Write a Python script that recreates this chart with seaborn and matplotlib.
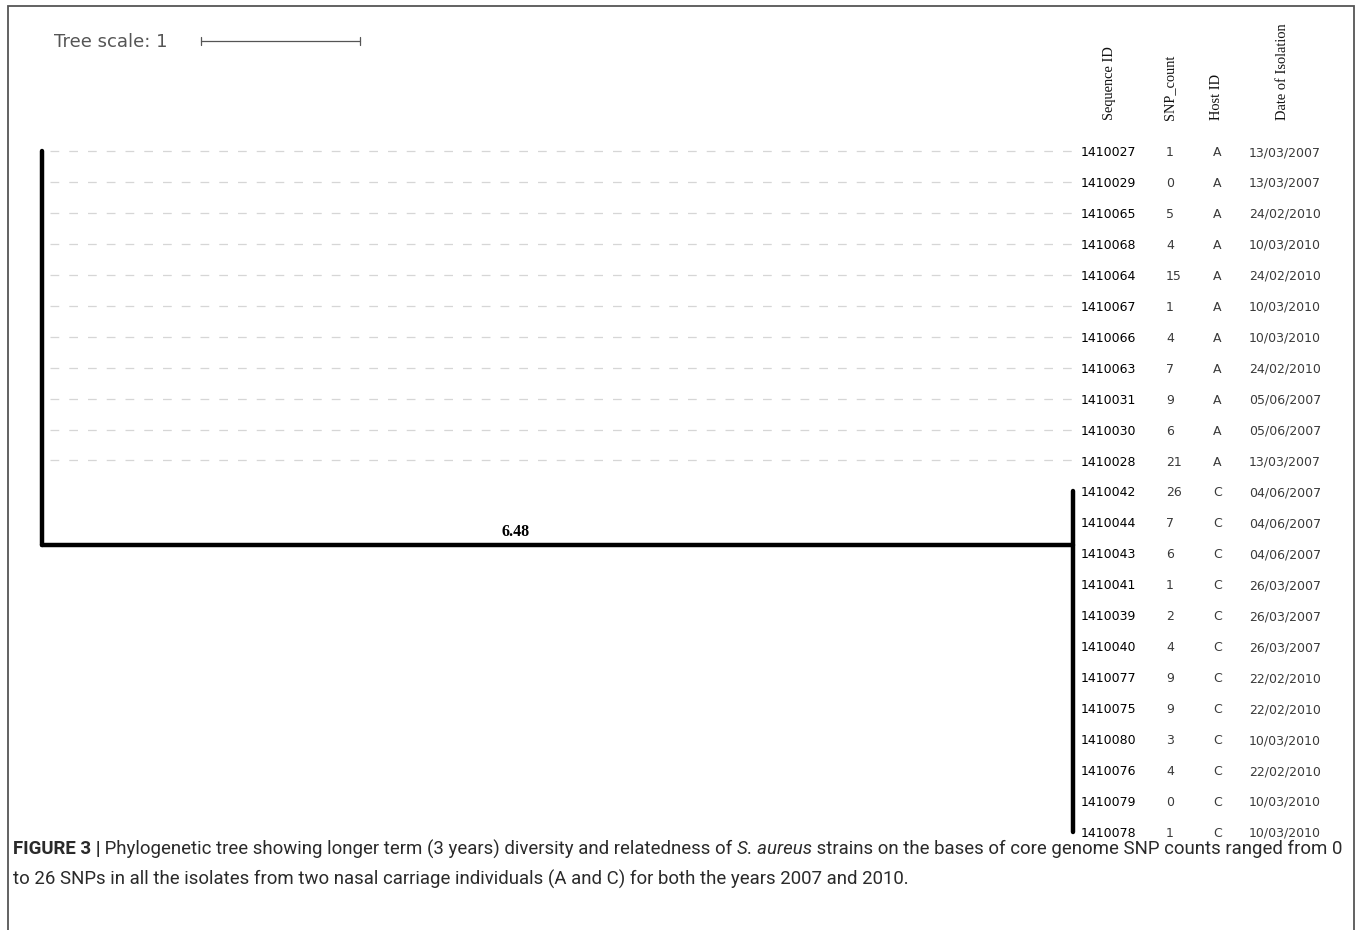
import matplotlib
matplotlib.use("Agg")
import matplotlib.pyplot as plt
from matplotlib import transforms
from matplotlib.patches import Rectangle
import seaborn as sns
import pandas as pd

# ---- isolate table -------------------------------------------------------
seq_ids = ["1410027", "1410029", "1410065", "1410068", "1410064", "1410067",
           "1410066", "1410063", "1410031", "1410030", "1410028",
           "1410042", "1410044", "1410043", "1410041", "1410039", "1410040",
           "1410077", "1410075", "1410080", "1410076", "1410079", "1410078"]
snp_counts = [1, 0, 5, 4, 15, 1, 4, 7, 9, 6, 21,
              26, 7, 6, 1, 2, 4, 9, 9, 3, 4, 0, 1]
host_ids = ["A"] * 11 + ["C"] * 12
iso_dates = ["13/03/2007", "13/03/2007", "24/02/2010", "10/03/2010",
             "24/02/2010", "10/03/2010", "10/03/2010", "24/02/2010",
             "05/06/2007", "05/06/2007", "13/03/2007",
             "04/06/2007", "04/06/2007", "04/06/2007", "26/03/2007",
             "26/03/2007", "26/03/2007", "22/02/2010", "22/02/2010",
             "10/03/2010", "22/02/2010", "10/03/2010", "10/03/2010"]
column_titles = ["Sequence ID", "SNP_count", "Host ID", "Date of Isolation"]

# ---- tree ------------------------------------------------------------------
clade_c_branch = 6.48        # root -> host C clade
leaf_branch = 0.0            # all tips sit on their parent node
clade_c_anchor_row = 12.73   # row position of the host C clade node
branch_label_pos = 0.459     # where the length label sits along the branch
tree_scale_len = 1.0
tree_scale_start = 1.0

rows = list(range(len(seq_ids)))
a_rows = [r for r, h in zip(rows, host_ids) if h == "A"]
c_rows = [r for r, h in zip(rows, host_ids) if h == "C"]

W, H, DPI = 1357, 930, 100
sns.set_theme(style="white")
plt.rcParams["font.family"] = ["DejaVu Sans"]

fig = plt.figure(figsize=(W / DPI, H / DPI), dpi=DPI)
ax = fig.add_axes([0, 0, 1, 1])
px_per_unit = 159.1
x0_px = 42
row0_px, row_px = 151, 30.95
ax.set_xlim(-x0_px / px_per_unit, (W - x0_px) / px_per_unit)
ax.set_ylim((H - row0_px) / row_px, -row0_px / row_px)
ax.axis("off")

# frame around the figure panel
fig.patches.append(Rectangle((8 / W, -0.01), (1354 - 8) / W, 1.01 - 6 / H,
                             transform=fig.transFigure, fill=False,
                             edgecolor="#555555", linewidth=1.3))

tip_x = clade_c_branch + leaf_branch
# dashed leader lines from the host A tips to the labels
for r in a_rows:
    lead = pd.DataFrame({"x": [leaf_branch + 0.05, tip_x + 0.02], "y": [r, r]})
    sns.lineplot(data=lead, x="x", y="y", ax=ax, color="#d6d6d6",
                 linewidth=0.9, linestyle=(0, (7, 8)), estimator=None,
                 sort=False)

branch_kw = dict(color="black", linewidth=3.2, solid_capstyle="round",
                 estimator=None, sort=False)
# root: vertical joining the host A tips and the host C clade
root_v = pd.DataFrame({"x": [0, 0], "y": [min(a_rows), clade_c_anchor_row]})
sns.lineplot(data=root_v, x="x", y="y", ax=ax, **branch_kw)
# branch to the host C clade
c_h = pd.DataFrame({"x": [0, clade_c_branch],
                    "y": [clade_c_anchor_row, clade_c_anchor_row]})
sns.lineplot(data=c_h, x="x", y="y", ax=ax, **branch_kw)
# host C clade vertical
c_v = pd.DataFrame({"x": [clade_c_branch, clade_c_branch],
                    "y": [min(c_rows), max(c_rows)]})
sns.lineplot(data=c_v, x="x", y="y", ax=ax, **branch_kw)

ax.text(clade_c_branch * branch_label_pos, clade_c_anchor_row - 0.17,
        f"{clade_c_branch:.2f}", ha="center", va="bottom", fontsize=11.5,
        fontweight="bold", family="Liberation Serif", color="black", zorder=5,
        bbox=dict(facecolor="white", edgecolor="none", pad=2.0))

# tree scale bar
sy = -3.555
ax.plot([tree_scale_start, tree_scale_start + tree_scale_len], [sy, sy],
        color="#555555", linewidth=0.9)
for xe in (tree_scale_start, tree_scale_start + tree_scale_len):
    ax.plot([xe, xe], [sy - 0.13, sy + 0.13], color="#555555", linewidth=0.9)
ax.text(54 / W, 1 - 42 / H, f"Tree scale: {tree_scale_len:g}",
        transform=ax.transAxes, ha="left", va="center", fontsize=13,
        color="#555555")

# table columns
tr = transforms.blended_transform_factory(ax.transAxes, ax.transData)
col_x = [1081 / W, 1166 / W, 1213 / W, 1249 / W]
dy = 0.05
for r in rows:
    ax.text(col_x[0], r + dy, seq_ids[r], transform=tr, ha="left",
            va="center", fontsize=9, color="#000000")
    ax.text(col_x[1], r + dy, str(snp_counts[r]), transform=tr, ha="left",
            va="center", fontsize=9, color="#3a3a3a")
    ax.text(col_x[2], r + dy, host_ids[r], transform=tr, ha="left",
            va="center", fontsize=9, color="#3a3a3a")
    ax.text(col_x[3], r + dy, iso_dates[r], transform=tr, ha="left",
            va="center", fontsize=9, color="#3a3a3a")

head_x = [1110 / W, 1170 / W, 1216 / W, 1282 / W]
for hx, title in zip(head_x, column_titles):
    ax.text(hx, 1 - 120 / H, title, transform=ax.transAxes, rotation=90,
            ha="center", va="bottom", fontsize=10.4,
            family="Liberation Serif", color="#111111")

# caption
cap_fam = ["Liberation Sans Narrow", "Roboto", "DejaVu Sans"]
line1 = [("FIGURE 3 |", "bold", "normal"),
         (" Phylogenetic tree showing longer term (3 years) diversity and "
          "relatedness of ", "normal", "normal"),
         ("S. aureus", "normal", "italic"),
         (" strains on the bases of core genome SNP counts ranged from 0",
          "normal", "normal")]
line2 = [("to 26 SNPs in all the isolates from two nasal carriage individuals "
          "(A and C) for both the years 2007 and 2010.", "normal", "normal")]

renderer = fig.canvas.get_renderer()


def draw_line(pieces, x_px, y_px, size):
    x = x_px
    arts = []
    for txt, wt, st in pieces:
        t = fig.text(x / W, 1 - y_px / H, txt, ha="left", va="center",
                     fontsize=size, fontweight=wt, fontstyle=st,
                     family=cap_fam, color="#2a2a2a")
        bb = t.get_window_extent(renderer=renderer)
        x += bb.width
        arts.append(t)
    return x - x_px, arts


cap_left, cap_right = 13, 1341
cap_size = 11.0
for _ in range(3):
    width, arts = draw_line(line1, cap_left, 849, cap_size)
    for a in arts:
        a.remove()
    cap_size *= (cap_right - cap_left) / width
draw_line(line1, cap_left, 849, cap_size)
draw_line(line2, cap_left, 879, cap_size)

fig.savefig("out.png", dpi=DPI, facecolor="white")
